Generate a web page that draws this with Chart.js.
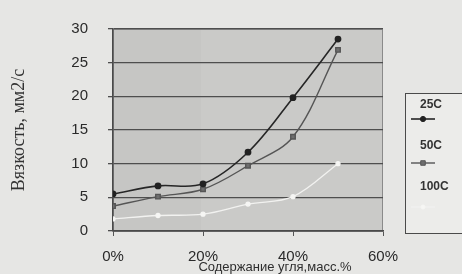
<!DOCTYPE html>
<html>
<head>
<meta charset="utf-8">
<script src="https://cdn.jsdelivr.net/npm/chart.js@4.4.1/dist/chart.umd.min.js"></script>
<style>
  html, body { margin: 0; padding: 0; background: #e6e6e4; }
  #wrap { width: 462px; height: 274px; position: relative; }
</style>
</head>
<body>
<div id="wrap"><canvas id="chart"></canvas></div>
<script>
// values
const coal = [0, 10, 20, 30, 40, 50];
const visc25 = [5.5, 6.7, 7.0, 11.7, 19.8, 28.5];
const visc50 = [3.7, 5.1, 6.2, 9.7, 14.0, 26.9];
const visc100 = [1.8, 2.3, 2.5, 4.0, 5.1, 10.0];
const seriesNames = ['25C', '50C', '100C'];
const yTicks = [0, 5, 10, 15, 20, 25, 30];
const xTicks = [0, 20, 40, 60];

const SANS = '"Liberation Sans", Arial, sans-serif';
const SERIF = '"Liberation Serif", "Times New Roman", serif';

const pts = ys => coal.map((x, i) => ({ x, y: ys[i] }));

// gray plot area like the printed figure
const plotBg = {
  id: 'plotBg',
  beforeDraw(chart) {
    const { ctx, chartArea: a } = chart;
    ctx.save();
    ctx.fillStyle = '#cacac8';
    ctx.fillRect(a.left, a.top, a.right - a.left, a.bottom - a.top);
    ctx.fillStyle = 'rgba(0,0,0,.02)';
    ctx.fillRect(a.left, a.top, 88, a.bottom - a.top);
    ctx.strokeStyle = '#8a8a8a';
    ctx.lineWidth = 1;
    ctx.strokeRect(a.left + .5, a.top + .5, a.right - a.left - 1, a.bottom - a.top);
    ctx.restore();
  },
};

// x axis caption, sits a bit right of centre in the original
const xCaption = {
  id: 'xCaption',
  afterDraw(chart) {
    const { ctx } = chart;
    ctx.save();
    ctx.font = '13px ' + SANS;
    ctx.fillStyle = '#2e2e2e';
    ctx.textAlign = 'center';
    ctx.textBaseline = 'middle';
    ctx.fillText('Содержание угля,масс.%', 275, 267);
    ctx.restore();
  },
};

// boxed legend, name above each marker, clipped by the right edge
const boxLegend = {
  id: 'boxLegend',
  afterDraw(chart) {
    const { ctx } = chart;
    const x0 = 405.5, y0 = 93.5;
    ctx.save();
    ctx.fillStyle = '#ececea';
    ctx.strokeStyle = '#4a4a4a';
    ctx.lineWidth = 1;
    ctx.fillRect(x0, y0, 70, 140);
    ctx.strokeRect(x0, y0, 70, 140);
    chart.data.datasets.forEach((ds, i) => {
      const ty = 105 + i * 41;
      ctx.font = 'bold 12px ' + SANS;
      ctx.fillStyle = '#333';
      ctx.textBaseline = 'middle';
      ctx.fillText(ds.label, 420, ty);
      const my = ty + 14 + i * 3;
      ctx.strokeStyle = ds.borderColor;
      ctx.lineWidth = ds.borderWidth;
      ctx.beginPath();
      ctx.moveTo(411, my);
      ctx.lineTo(435, my);
      ctx.stroke();
      ctx.fillStyle = ds.pointBackgroundColor;
      ctx.strokeStyle = ds.pointBorderColor;
      ctx.lineWidth = 1;
      Chart.helpers.drawPoint(ctx, {
        pointStyle: ds.pointStyle, radius: ds.pointRadius, borderWidth: 1,
      }, 423, my);
    });
    ctx.restore();
  },
};

new Chart(document.getElementById('chart'), {
  type: 'line',
  data: {
    datasets: [
      {
        label: seriesNames[0], data: pts(visc25),
        borderColor: '#262626', borderWidth: 1.6, tension: 0.35,
        pointStyle: 'circle', pointRadius: 2.6,
        pointBackgroundColor: '#222', pointBorderColor: '#222',
      },
      {
        label: seriesNames[1], data: pts(visc50),
        borderColor: '#555', borderWidth: 1.4, tension: 0.35,
        pointStyle: 'rect', pointRadius: 3.2,
        pointBackgroundColor: '#6e6e6e', pointBorderColor: '#555',
      },
      {
        label: seriesNames[2], data: pts(visc100),
        borderColor: '#f2f2f0', borderWidth: 1.3, tension: 0.35,
        pointStyle: 'circle', pointRadius: 2,
        pointBackgroundColor: '#f6f6f4', pointBorderColor: '#f6f6f4',
      },
    ],
  },
  options: {
    responsive: true,
    maintainAspectRatio: false,
    animation: false,
    layout: { padding: { top: 20, right: 79, left: 0, bottom: 0 } },
    plugins: { legend: { display: false }, tooltip: { enabled: false } },
    scales: {
      x: {
        type: 'linear', min: 0, max: 60,
        afterBuildTicks: s => { s.ticks = xTicks.map(v => ({ value: v })); },
        afterFit: s => { s.height = 43; },
        ticks: {
          callback: v => v + '%', color: '#2a2a2a', padding: 12,
          font: { family: SANS, size: 15 },
        },
        grid: { drawOnChartArea: false, color: '#555', tickLength: 5 },
        border: { color: '#4a4a4a', width: 1.5 },
      },
      y: {
        min: 0, max: 30,
        afterBuildTicks: s => { s.ticks = yTicks.map(v => ({ value: v })); },
        afterFit: s => { s.width = 113; },
        ticks: {
          color: '#2a2a2a', padding: 20,
          font: { family: SANS, size: 15 },
        },
        grid: { color: '#4e4e4e', lineWidth: 1.3, tickLength: 5 },
        border: { color: '#4a4a4a', width: 1.5 },
        title: {
          display: true, text: 'Вязкость, мм2/с', color: '#333',
          font: { family: SERIF, size: 18 }, padding: { top: 8, bottom: 0 },
        },
      },
    },
  },
  plugins: [plotBg, xCaption, boxLegend],
});
</script>
</body>
</html>
